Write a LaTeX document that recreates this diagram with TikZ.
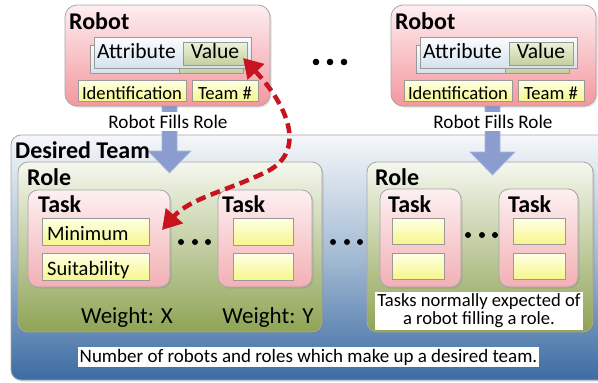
\documentclass[tikz,border=0pt]{standalone}
\usepackage{fontspec}
\setmainfont{Carlito}
\usetikzlibrary{arrows.meta,shadows,calc}
\definecolor{robotTop}{HTML}{FDEEF0}
\definecolor{robotBot}{HTML}{F4979E}
\definecolor{taskTop}{HTML}{FDF0F1}
\definecolor{taskBot}{HTML}{F2B0B5}
\definecolor{roleTop}{HTML}{F5F7EE}
\definecolor{roleBot}{HTML}{8FA455}
\definecolor{teamTop}{HTML}{F5F7FA}
\definecolor{teamMid}{HTML}{A3BAD3}
\definecolor{teamBot}{HTML}{3C6BA3}
\definecolor{attrTop}{HTML}{FBFDFF}
\definecolor{attrBot}{HTML}{D5E2EE}
\definecolor{valTop}{HTML}{EEF2DC}
\definecolor{valBot}{HTML}{C4CF9F}
\definecolor{yelTop}{HTML}{FFFFE8}
\definecolor{yelBot}{HTML}{F6F68C}
\definecolor{edgeGray}{HTML}{A6A6A6}
\definecolor{arrowFill}{HTML}{8B9DCF}
\definecolor{arrowEdge}{HTML}{A9B5DD}
\definecolor{redArrow}{HTML}{C8141E}
\newcommand\mybox[6]{\node[#1,anchor=north west,minimum width=#5pt,minimum height=#6pt] (#2) at (#3,#4) {};}
\tikzset{
  base box/.style={inner sep=0pt,outer sep=0pt,draw=edgeGray,line width=0.8pt},
  robotbox/.style={base box,rounded corners=12pt,top color=robotTop,bottom color=robotBot,
     drop shadow={shadow xshift=1.5pt,shadow yshift=-1.5pt,opacity=0.25}},
  teambox/.style={base box,rounded corners=10pt,top color=teamTop,bottom color=teamBot,middle color=teamMid,
     drop shadow={shadow xshift=1.5pt,shadow yshift=-1.5pt,opacity=0.25}},
  rolebox/.style={base box,rounded corners=10pt,top color=roleTop,bottom color=roleBot,
     drop shadow={shadow xshift=1.5pt,shadow yshift=-1.5pt,opacity=0.25}},
  taskbox/.style={base box,rounded corners=10pt,top color=taskTop,bottom color=taskBot,
     drop shadow={shadow xshift=1.5pt,shadow yshift=-1.5pt,opacity=0.25}},
  attrbox/.style={base box,draw=gray!80,top color=attrTop,bottom color=attrBot},
  valbox/.style={base box,draw=gray!80,top color=valTop,bottom color=valBot},
  yelbox/.style={base box,draw=gray!80,top color=yelTop,bottom color=yelBot,
     drop shadow={shadow xshift=1pt,shadow yshift=-1pt,opacity=0.25}},
  hdr/.style={inner sep=0pt,font=\fontsize{24}{28}\selectfont\bfseries},
  txtA/.style={inner sep=0pt,font=\fontsize{20.5}{24}\selectfont},
  txtV/.style={inner sep=0pt,font=\fontsize{21.6}{25}\selectfont},
  txtB/.style={inner sep=0pt,font=\fontsize{18.6}{22}\selectfont},
  txtF/.style={inner sep=0pt,font=\fontsize{19.2}{22}\selectfont},
  txtN/.style={inner sep=0pt,font=\fontsize{19}{22}\selectfont},
  txtW/.style={inner sep=0pt,font=\fontsize{23}{27}\selectfont},
  blockarrow/.style={fill=arrowFill,draw=arrowEdge,line width=0.6pt},
  redline/.style={draw=redArrow,line width=4.5pt,dash pattern=on 10pt off 5.5pt,
     {Triangle[length=19pt,width=22pt]}-{Triangle[length=19pt,width=22pt]}},
  dot/.style={fill=black}
}
\begin{document}
\begin{tikzpicture}[x=1pt,y=-1pt]
\useasboundingbox (0,0) rectangle (598,383);
\begin{scope}
\clip (0,0) rectangle (598,383);
% Desired team
\mybox{teambox}{team}{11}{135}{600}{245}
% Roles
\mybox{rolebox}{role1}{18}{162}{304}{170}
\mybox{rolebox}{role2}{367}{162}{226}{170}
% Tasks
\mybox{taskbox}{task1}{28}{190}{142}{97}
\mybox{taskbox}{task2}{218}{190}{94}{97}
\mybox{taskbox}{task3}{380}{189}{81}{98}
\mybox{taskbox}{task4}{499}{189}{79}{98}
% yellow boxes
\mybox{yelbox}{min}{42}{218}{107}{27}
\mybox{yelbox}{suit}{42}{253}{107}{27}
\mybox{yelbox}{t2a}{233}{218}{60}{27}
\mybox{yelbox}{t2b}{233}{253}{60}{27}
\mybox{yelbox}{t3a}{392}{218}{52}{26}
\mybox{yelbox}{t3b}{392}{253}{52}{26}
\mybox{yelbox}{t4a}{513}{218}{52}{26}
\mybox{yelbox}{t4b}{513}{253}{52}{26}
% block arrows
\draw[blockarrow] (162,104) -- (177,104) -- (177,151) -- (191,151) -- (169.5,173) -- (148,151) -- (162,151) -- cycle;
\draw[blockarrow] (485,104) -- (500,104) -- (500,152) -- (515,152) -- (492.5,175) -- (470,152) -- (485,152) -- cycle;
% Robots
\mybox{robotbox}{robot1}{65}{5}{205}{101}
\mybox{robotbox}{robot2}{391}{5}{205}{101}
% Robot 1 contents
\mybox{attrbox}{attr1b}{90}{45}{152}{28}
\mybox{valbox}{val1b}{179}{50}{64}{23}
\mybox{attrbox}{attr1}{94}{37}{157}{31}
\mybox{valbox}{val1}{183}{42}{64}{23}
\mybox{yelbox}{id1}{78}{80}{108}{21}
\mybox{yelbox}{tm1}{192}{80}{66}{21}
% Robot 2 contents
\mybox{attrbox}{attr2b}{416}{45}{152}{28}
\mybox{valbox}{val2b}{505}{50}{64}{23}
\mybox{attrbox}{attr2}{420}{37}{157}{31}
\mybox{valbox}{val2}{509}{42}{64}{23}
\mybox{yelbox}{id2}{404}{80}{108}{21}
\mybox{yelbox}{tm2}{518}{80}{66}{21}
% Texts robots
\node[hdr,anchor=base west] (r1t) at (69,29) {Robot};
\node[hdr,anchor=base west] (r2t) at (395,29) {Robot};
\node[txtV,anchor=base west] (a1t) at (97,58) {Attribute};
\node[txtV,anchor=base] (v1t) at (val1.center |- 0,58) {Value};
\node[txtV,anchor=base west] (a2t) at (423,58) {Attribute};
\node[txtV,anchor=base] (v2t) at (val2.center |- 0,58) {Value};
\node[txtB,anchor=base] (i1t) at (id1.center |- 0,99) {Identification};
\node[txtB,anchor=base] (n1t) at (tm1.center |- 0,99) {Team \#};
\node[txtB,anchor=base] (i2t) at (id2.center |- 0,99) {Identification};
\node[txtB,anchor=base] (n2t) at (tm2.center |- 0,99) {Team \#};
\node[txtF,anchor=base,fill=white,inner xsep=2pt,inner ysep=3pt] (f1) at (168,128) {Robot Fills Role};
\node[txtF,anchor=base,fill=white,inner xsep=2pt,inner ysep=3pt] (f2) at (493,128) {Robot Fills Role};
% Team texts
\node[hdr,anchor=base west] (dt) at (15,158) {Desired Team};
\node[hdr,anchor=base west] (ro1) at (27,185) {Role};
\node[hdr,anchor=base west] (ro2) at (375,185) {Role};
\node[hdr,anchor=base west] (ta1) at (38,212) {Task};
\node[hdr,anchor=base west] (ta2) at (222,212) {Task};
\node[hdr,anchor=base west] (ta3) at (388,212) {Task};
\node[hdr,anchor=base west] (ta4) at (508,212) {Task};
\node[txtA,anchor=base west] (mint) at (47,240) {Minimum};
\node[txtA,anchor=base west] (suitt) at (47,275) {Suitability};
\node[txtW,anchor=base] (wx) at (127,323) {Weight: X};
\node[txtW,anchor=base] (wy) at (268,323) {Weight: Y};
\node[txtB,fill=white,align=center,inner xsep=2pt,inner ysep=2pt,minimum width=208pt,minimum height=38pt,
      font=\fontsize{18.6}{18}\selectfont] (tn) at (479,311) {Tasks normally expected of\\a robot filling a role.};
\node[txtN,anchor=base,fill=white,inner xsep=2pt,inner ysep=2pt] (num) at (308.5,362) {Number of robots and roles which make up a desired team.};
% dots
\foreach \x in {316,330,344} \fill[dot] (\x,62) circle (3.3pt);
\foreach \x in {181,195,208} \fill[dot] (\x,242) circle (3pt);
\foreach \x in {333,347,360} \fill[dot] (\x,242) circle (3pt);
\foreach \x in {468,482,495} \fill[dot] (\x,235) circle (3pt);
% red dashed arrow
\coordinate (redA) at (243,58);
\coordinate (redB) at (162,230);
\draw[redline] (redA) .. controls (287,105) and (307,150) .. (268,171) .. controls (230,190) and (190,198) .. (redB);
\end{scope}
\end{tikzpicture}
\end{document}
